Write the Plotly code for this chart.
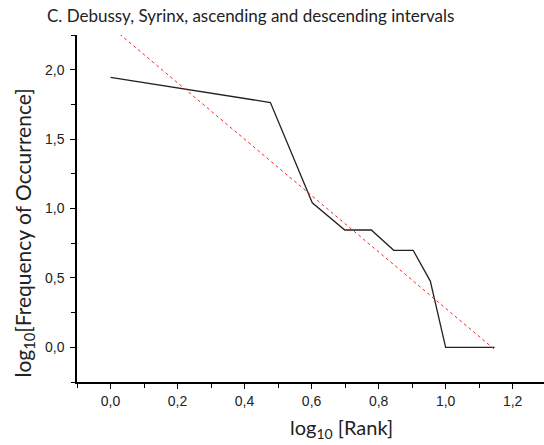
import numpy as np
import plotly.graph_objects as go

# Data: rank and frequency of occurrence (intervals in Debussy's Syrinx)
ranks = [1, 2, 3, 4, 5, 6, 7, 8, 9, 10, 11, 12, 13, 14]
freqs = [88, 68, 58, 11, 7, 7, 5, 5, 3, 1, 1, 1, 1, 1]

title_text = "C. Debussy, Syrinx, ascending and descending intervals"
x_title = "log<sub>10</sub> [Rank]"
y_title = "log<sub>10</sub>[Frequency of Occurrence]"

x_tickvals = [0.0, 0.2, 0.4, 0.6, 0.8, 1.0, 1.2]
y_tickvals = [0.0, 0.5, 1.0, 1.5, 2.0]

lx = np.log10(ranks)
ly = np.log10(freqs)

# linear regression fit in log-log space
slope, intercept = np.polyfit(lx, ly, 1)
fit_x = np.array([lx[0], lx[-1]])
fit_y = intercept + slope * fit_x

W, H = 544, 445
L, R, T, B = 77, 0, 35, 63

fig = go.Figure()
fig.add_trace(go.Scatter(x=lx, y=ly, mode="lines",
                         line=dict(color="#222222", width=1.3),
                         showlegend=False, hoverinfo="skip"))
fig.add_trace(go.Scatter(x=fit_x, y=fit_y, mode="lines",
                         line=dict(color="#ff2020", width=1, dash="dot"),
                         showlegend=False, hoverinfo="skip"))

axis_font = dict(family="Liberation Sans, Arial, sans-serif", size=14, color="#222222")

fig.update_layout(
    width=W, height=H,
    margin=dict(l=L, r=R, t=T, b=B),
    paper_bgcolor="white", plot_bgcolor="white",
    separators=", ",
    xaxis=dict(range=[-0.1, 1.2935], showgrid=False, zeroline=False,
               showline=True, linecolor="black", linewidth=1.5,
               tickvals=x_tickvals, tickformat=".1f",
               ticks="outside", ticklen=5, tickwidth=1.3, tickcolor="black",
               minor=dict(dtick=0.1, tick0=0, ticks="outside", ticklen=4,
                          tickwidth=1.3, tickcolor="black"),
               tickfont=axis_font),
    yaxis=dict(range=[-0.25, 2.25], showgrid=False, zeroline=False,
               showline=True, linecolor="black", linewidth=1.5,
               tickvals=y_tickvals, tickformat=".1f",
               ticks="outside", ticklen=5, tickwidth=1.3, tickcolor="black",
               ticklabelstandoff=3,
               minor=dict(dtick=0.25, tick0=0, ticks="outside", ticklen=4,
                          tickwidth=1.3, tickcolor="black"),
               tickfont=axis_font),
)

pw = W - L - R
ph = H - T - B

def px(xp):
    return (xp - L) / pw

def py(yp):
    return (H - B - yp) / ph

title_font = dict(family="Lato, Open Sans, sans-serif", size=17, color="#222222")
lab_font = dict(family="Lato, Open Sans, sans-serif", size=20, color="#222222")
ylab_font = dict(family="Lato, Open Sans, sans-serif", size=21, color="#222222")

fig.add_annotation(text=title_text, xref="paper", yref="paper",
                   x=px(45), y=py(15.5), xanchor="left", yanchor="middle",
                   showarrow=False, font=title_font)
fig.add_annotation(text=x_title, xref="paper", yref="paper",
                   x=px(341.7), y=py(428), xanchor="center", yanchor="middle",
                   showarrow=False, font=lab_font)
fig.add_annotation(text=y_title, xref="paper", yref="paper",
                   x=px(23.5), y=py(233), xanchor="center", yanchor="middle",
                   textangle=-90, showarrow=False, font=ylab_font)

fig.write_html("out.html")
